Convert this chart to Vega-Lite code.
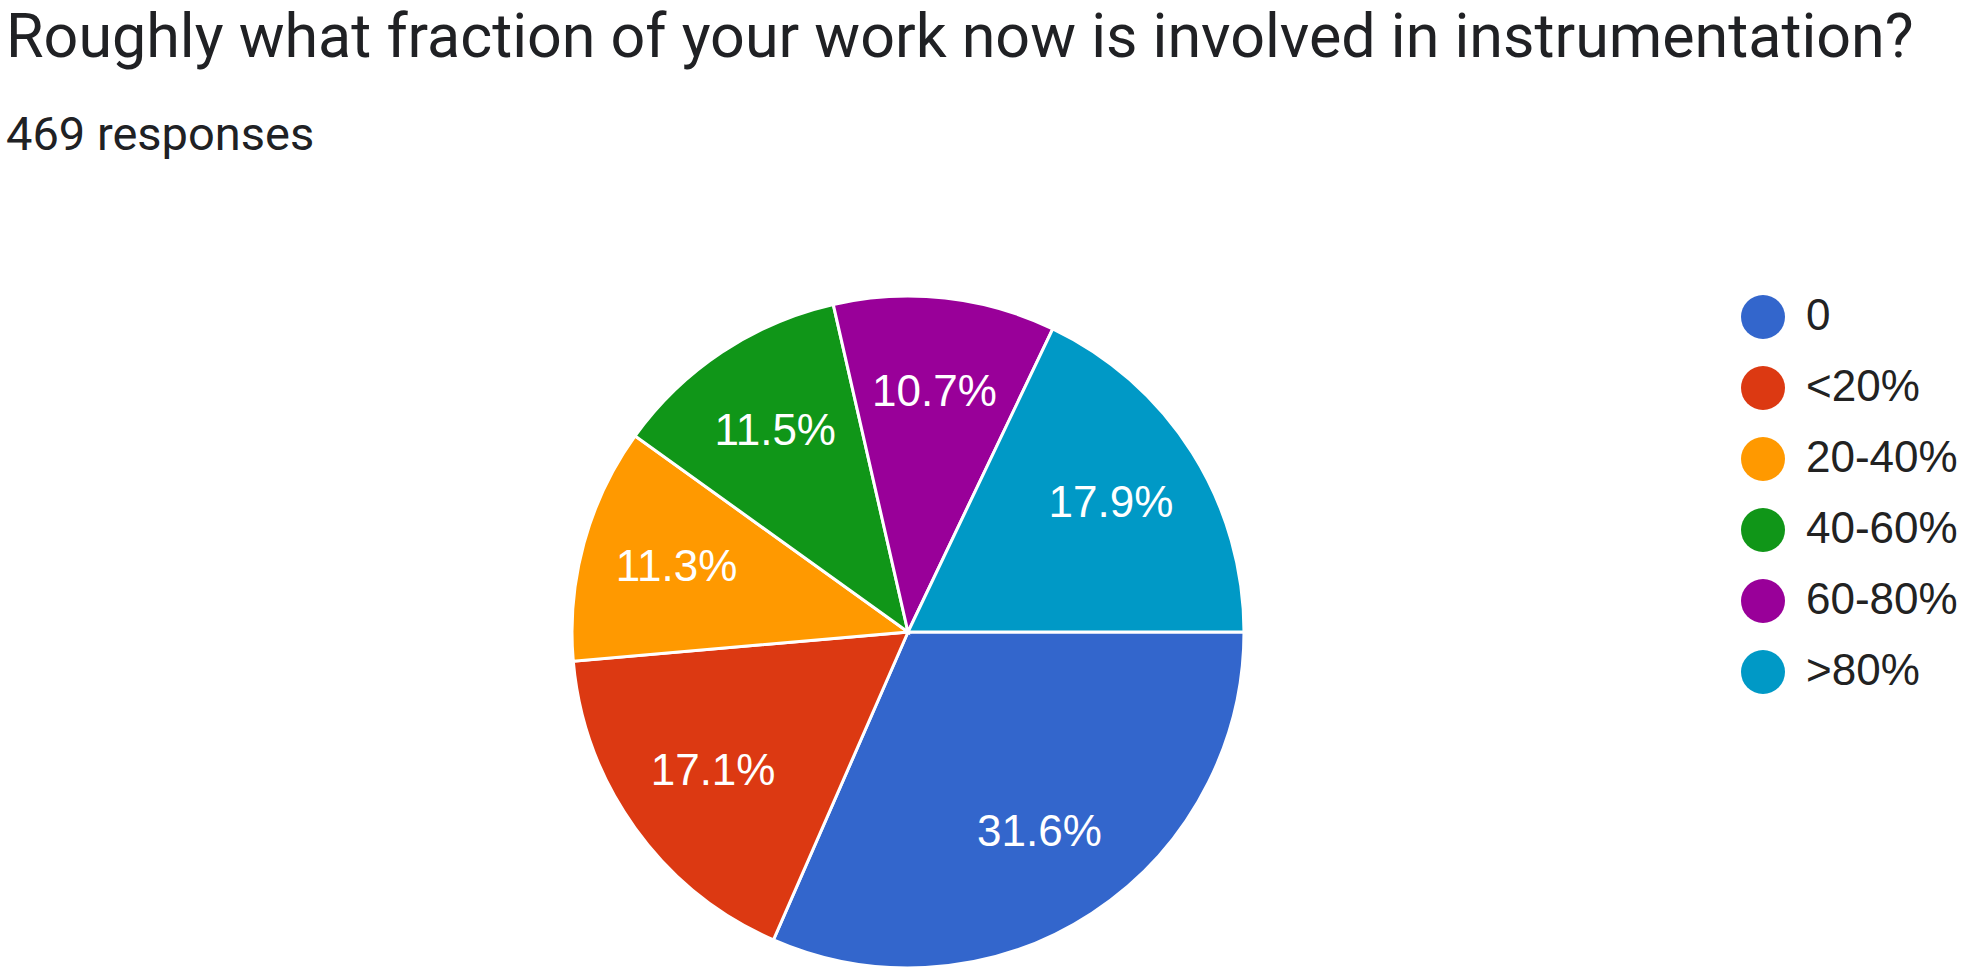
{
  "$schema": "https://vega.github.io/schema/vega-lite/v6.json",
  "width": 1816,
  "height": 904,
  "autosize": {"type": "none"},
  "padding": {"left": 0, "top": 180, "right": 158, "bottom": 0},
  "background": "white",
  "title": {
    "text": "Roughly what fraction of your work now is involved in instrumentation?",
    "subtitle": "469 responses",
    "anchor": "start",
    "frame": "group",
    "orient": "top",
    "dx": 6,
    "offset": 20,
    "font": "Roboto",
    "fontSize": 61,
    "fontWeight": "normal",
    "color": "#202124",
    "subtitleFont": "Roboto",
    "subtitleFontSize": 47,
    "subtitleColor": "#202124",
    "subtitlePadding": 43
  },
  "config": {"view": {"stroke": null}},
  "data": {
    "values": [
      {"answer": "0", "count": 148, "pct": "31.6%", "order": 1},
      {"answer": "<20%", "count": 80, "pct": "17.1%", "order": 2},
      {"answer": "20-40%", "count": 53, "pct": "11.3%", "order": 3},
      {"answer": "40-60%", "count": 54, "pct": "11.5%", "order": 4},
      {"answer": "60-80%", "count": 50, "pct": "10.7%", "order": 5},
      {"answer": ">80%", "count": 84, "pct": "17.9%", "order": 6}
    ]
  },
  "encoding": {
    "theta": {"field": "count", "type": "quantitative", "stack": true, "scale": {"range": [1.5707963, 7.8539816]}},
    "order": {"field": "order", "type": "quantitative"},
    "color": {
      "field": "answer",
      "type": "nominal",
      "sort": ["0", "<20%", "20-40%", "40-60%", "60-80%", ">80%"],
      "scale": {
        "domain": ["0", "<20%", "20-40%", "40-60%", "60-80%", ">80%"],
        "range": ["#3366cc", "#dc3912", "#ff9900", "#109618", "#990099", "#0099c6"]
      },
      "legend": {
        "title": null,
        "orient": "none",
        "legendX": 1741,
        "legendY": 115,
        "symbolType": "circle",
        "symbolSize": 1936,
        "symbolStrokeWidth": 0,
        "symbolOpacity": 1,
        "labelFont": "Liberation Sans",
        "labelFontSize": 44,
        "labelColor": "#222222",
        "labelOffset": 21,
        "rowPadding": 27,
        "labelLimit": 400
      }
    }
  },
  "layer": [
    {
      "mark": {"type": "arc", "outerRadius": 336, "stroke": "white", "strokeWidth": 3}
    },
    {
      "mark": {"type": "text", "radius": 240, "font": "Liberation Sans", "fontSize": 44, "fill": "white", "align": "center", "baseline": "middle"},
      "encoding": {
        "text": {"field": "pct", "type": "nominal"},
        "color": {"value": "white"}
      }
    }
  ]
}
